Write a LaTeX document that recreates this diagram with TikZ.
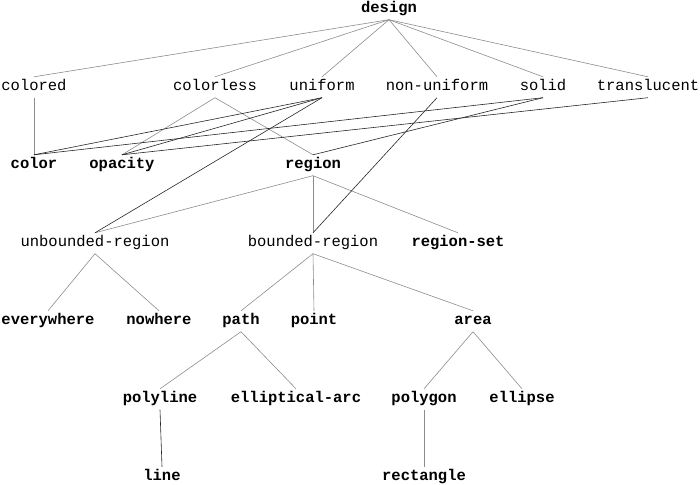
\documentclass[tikz,border=0pt]{standalone}
\usepackage{fontspec}
\setmonofont{Liberation Mono}

\tikzset{
    concept/.style={font=\ttfamily\fontsize{15.5}{16}\selectfont, inner sep=0pt,
        text height=13.5pt, text depth=7pt, anchor=base},
    kind/.style={concept, font=\ttfamily\bfseries\fontsize{15.5}{16}\selectfont},
    isa/.style={draw=black!45, line width=0.6pt},
    link/.style={draw=black!85, line width=0.6pt}
}

\begin{document}
\begin{tikzpicture}[x=1pt, y=-1pt]
    \useasboundingbox (0,0) rectangle (700,484);
    % top
    \node[kind] (design) at (389,12.5) {design};
    % properties
    \node[concept] (colored) at (34,90.5) {colored};
    \node[concept] (colorless) at (215,90.5) {colorless};
    \node[concept] (uniform) at (322,90.5) {uniform};
    \node[concept] (nonuniform) at (437,90.5) {non-uniform};
    \node[concept] (solid) at (543,90.5) {solid};
    \node[concept] (translucent) at (648,90.5) {translucent};
    % parts
    \node[kind] (color) at (34,168.5) {color};
    \node[kind] (opacity) at (122,168.5) {opacity};
    \node[kind] (region) at (313,168.5) {region};
    % regions
    \node[concept] (unbounded) at (95,246.5) {unbounded-region};
    \node[concept] (bounded) at (313,246.5) {bounded-region};
    \node[kind] (regionset) at (458,246.5) {region-set};
    \node[kind] (everywhere) at (48,324.5) {everywhere};
    \node[kind] (nowhere) at (159,324.5) {nowhere};
    \node[kind] (path) at (241,324.5) {path};
    \node[kind] (point) at (314,324.5) {point};
    \node[kind] (area) at (473,324.5) {area};
    % shapes
    \node[kind] (polyline) at (160,402.5) {polyline};
    \node[kind] (elliptical) at (296,402.5) {elliptical-arc};
    \node[kind] (polygon) at (424,402.5) {polygon};
    \node[kind] (ellipse) at (522,402.5) {ellipse};
    \node[kind] (line) at (162,480.5) {line};
    \node[kind] (rectangle) at (424,480.5) {rectangle};

    % tree edges
    \foreach \a/\b in {design/colored, design/colorless, design/uniform,
        design/nonuniform, design/solid, design/translucent,
        colored/color, colorless/opacity, colorless/region,
        region/unbounded, region/bounded, region/regionset,
        unbounded/everywhere, unbounded/nowhere,
        bounded/path, bounded/point, bounded/area,
        path/polyline, path/elliptical, area/polygon, area/ellipse,
        polygon/rectangle}
        \draw[isa] (\a.south) -- (\b.north);
    % cross links
    \foreach \a/\b in {uniform/color, uniform/opacity, uniform/unbounded,
        nonuniform/bounded, solid/color, solid/region,
        translucent/opacity, polyline/line}
        \draw[link] (\a.south) -- (\b.north);
\end{tikzpicture}
\end{document}
